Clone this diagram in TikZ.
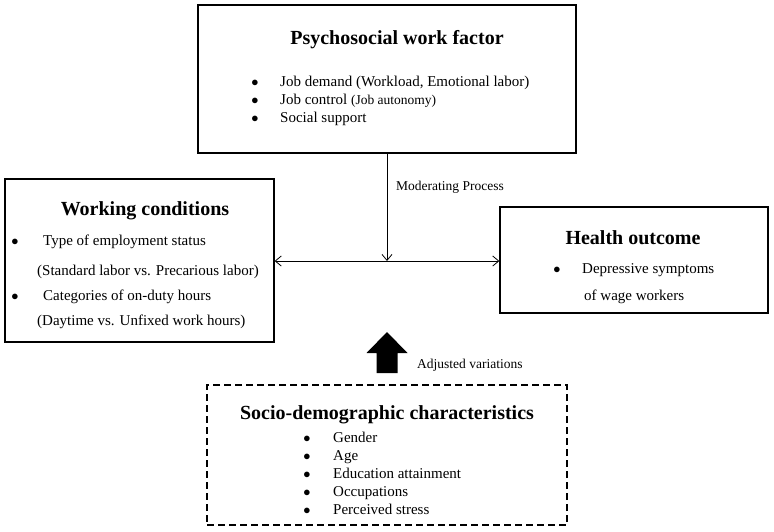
\documentclass[tikz,border=0pt]{standalone}
\usepackage{fontspec}
\setmainfont{Liberation Serif}
\usetikzlibrary{arrows.meta}
\newcommand{\bul}[1]{\makebox[#1][l]{$\bullet$}}

\begin{document}
\begin{tikzpicture}[x=1pt, y=-1pt,
  >={Straight Barb[length=6pt,width=10pt]},
  box/.style={draw, line width=1.3pt, inner sep=0pt},
  title/.style={anchor=base, inner sep=0pt, font=\fontsize{20}{24}\selectfont\bfseries},
  item/.style={anchor=base west, inner sep=0pt, font=\fontsize{15}{18}\selectfont},
  lab/.style={anchor=base west, inner sep=0pt, font=\fontsize{13.5}{16}\selectfont},
  link/.style={line width=0.8pt}]
\useasboundingbox (0,0) rectangle (774,531);
% boxes
\node[box, minimum width=378pt, minimum height=148pt] (psy) at (387,79) {};
\node[box, minimum width=269pt, minimum height=163pt] (work) at (139.5,260.5) {};
\node[box, minimum width=268pt, minimum height=106pt] (health) at (634,260) {};
\node[box, dash pattern=on 7pt off 4pt, minimum width=360pt, minimum height=140pt] (socio) at (387,455) {};
% psychosocial work factor
\node[title] (psytitle) at (397,44) {Psychosocial work factor};
\node[item] (psy1) at (251.25,86) {\bul{28.75pt}Job demand (Workload, Emotional labor)};
\node[item] (psy2) at (251.25,104) {\bul{28.75pt}Job control {\fontsize{13.5}{16}\selectfont(Job autonomy)}};
\node[item] (psy3) at (251.25,122) {\bul{28.75pt}Social support};
% working conditions
\node[title] (worktitle) at (145,215) {Working conditions};
\node[item] (work1) at (11.25,245) {\bul{31.75pt}Type of employment status};
\node[item] (work2) at (37,275) {(Standard labor vs. Precarious labor)};
\node[item] (work3) at (11.25,300) {\bul{31.75pt}Categories of on-duty hours};
\node[item] (work4) at (37,325) {(Daytime vs. Unfixed work hours)};
% health outcome
\node[title] (healthtitle) at (633,244) {Health outcome};
\node[item] (health1) at (553.25,273) {\bul{28.75pt}Depressive symptoms};
\node[item] (health2) at (584,300) {of wage workers};
% socio-demographic
\node[title] (sociotitle) at (387,419) {Socio-demographic characteristics};
\foreach \t [count=\i] in {Gender, Age, Education attainment, Occupations, Perceived stress}
  \node[item] (s\i) at (303.25,{424+18*\i}) {\bul{29.75pt}\t};
% connectors
\coordinate (mid) at (387,261);
\draw[link, <->] (work.east |- mid) -- (health.west |- mid);
\draw[link, ->] (psy) -- (mid);
\node[lab] (modlabel) at (396,190) {Moderating Process};
% adjusting arrow
\coordinate (adjfoot) at (387,373);
\coordinate (adjtip) at (387,332);
\fill (adjfoot) ++(-10.5,0) -- ++(0,-20) -- ++(-10,0) -- (adjtip) -- ++(20.5,21) -- ++(-10,0) -- ++(0,20) -- cycle;
\node[lab] (adjlabel) at (417,368) {Adjusted variations};
\end{tikzpicture}
\end{document}
